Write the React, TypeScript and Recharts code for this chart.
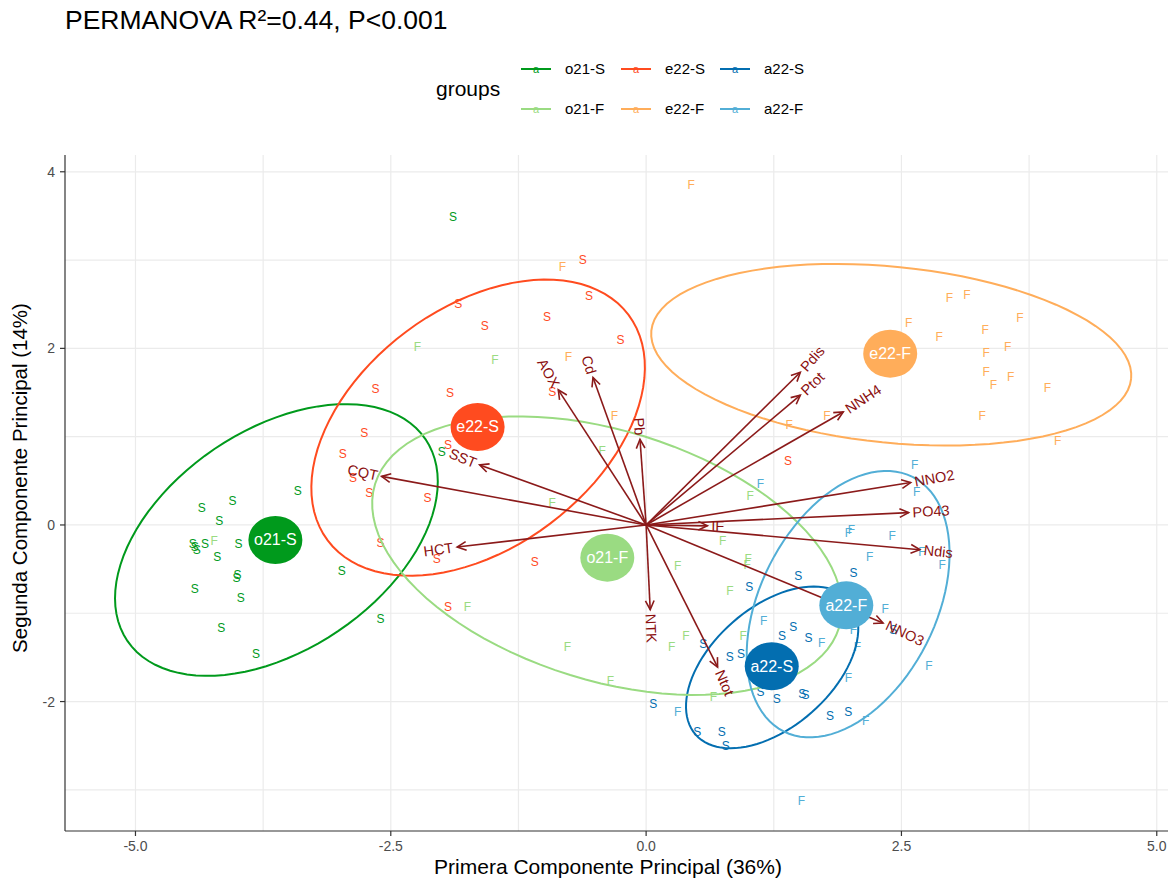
import React from 'react';
import { ScatterChart, Scatter, XAxis, YAxis, CartesianGrid } from 'recharts';

const W = 1168;
const H = 878;

// groups, in legend order (row 1 then row 2)
const groups = ['o21-S', 'e22-S', 'a22-S', 'o21-F', 'e22-F', 'a22-F'];
const groupColors: Record<string, string> = {
  'o21-S': '#009A1C',
  'e22-S': '#FF4B1F',
  'a22-S': '#036EB0',
  'o21-F': '#9ADB82',
  'e22-F': '#FFAD5A',
  'a22-F': '#52AED6',
};

// sample scores [PC1, PC2]
const o21S = [
  [-1.89, 3.49], [-3.41, 0.39], [-4.05, 0.27], [-4.35, 0.19], [-4.18, 0.05],
  [-4.44, -0.21], [-4.42, -0.25], [-4.40, -0.28], [-4.32, -0.21], [-3.99, -0.21],
  [-4.2, -0.36], [-4.01, -0.6], [-4.0, -0.57], [-4.42, -0.72], [-3.97, -0.83],
  [-2.98, -0.52], [-2.6, -1.06], [-4.16, -1.17], [-3.82, -1.46], [-2.0, 0.83],
];
const e22S = [
  [-0.62, 3.0], [-0.56, 2.59], [-1.84, 2.5], [-0.97, 2.36], [-1.58, 2.25],
  [-0.25, 2.1], [-2.65, 1.54], [-1.92, 1.5], [-0.92, 1.51], [-2.76, 1.04],
  [-2.97, 0.8], [-2.87, 0.53], [-2.71, 0.36], [-2.14, 0.31], [-2.6, -0.2],
  [-2.05, -0.39], [-1.94, 0.91], [-1.09, -0.42], [-1.94, -0.93], [1.39, 0.72],
];
const a22S = [
  [1.01, -0.7], [1.49, -0.58], [2.03, -0.54], [1.44, -1.16], [1.33, -1.26],
  [1.59, -1.28], [0.82, -1.49], [0.93, -1.46], [0.56, -1.35], [1.12, -1.89],
  [1.28, -1.97], [1.53, -1.92], [1.56, -1.93], [1.8, -2.16], [1.98, -2.12],
  [0.5, -2.35], [0.74, -2.35], [0.78, -2.5], [0.07, -2.03], [2.42, -1.19],
];
const o21F = [
  [-2.24, 2.01], [-1.48, 1.87], [-0.43, 0.84], [-4.23, -0.18], [-0.92, 0.25],
  [1.02, 0.33], [0.75, -0.18], [1.0, -0.39], [0.99, -0.45], [0.31, -0.47],
  [0.82, -0.75], [-1.75, -0.93], [-0.77, -1.38], [0.39, -1.26], [0.25, -1.38],
  [0.95, -1.26], [-0.35, -1.77], [0.66, -1.95],
];
const e22F = [
  [0.44, 3.85], [2.97, 2.57], [3.14, 2.6], [2.57, 2.29], [2.87, 2.13],
  [3.32, 2.21], [3.66, 2.34], [3.33, 1.95], [3.54, 2.01], [3.33, 1.73],
  [3.4, 1.58], [3.57, 1.68], [3.93, 1.55], [3.29, 1.23], [4.03, 0.95],
  [1.4, 1.13], [1.77, 1.23], [-0.82, 2.92], [-0.76, 1.9], [-0.31, 1.23],
];
const a22F = [
  [2.63, 0.68], [1.12, 0.46], [2.65, 0.37], [1.98, -0.09], [2.01, -0.06],
  [2.41, -0.13], [2.19, -0.36], [2.7, -0.31], [2.9, -0.45], [2.34, -0.95],
  [1.15, -1.09], [2.03, -1.19], [1.72, -1.34], [2.07, -1.38], [2.77, -1.6],
  [1.98, -1.73], [2.15, -2.22], [0.31, -2.12], [1.52, -3.13],
];
const samples: Record<string, number[][]> = {
  'o21-S': o21S, 'e22-S': e22S, 'a22-S': a22S,
  'o21-F': o21F, 'e22-F': e22F, 'a22-F': a22F,
};

// group centroids
const centroidX = [-3.63, -1.65, 1.23, -0.38, 2.39, 1.96];
const centroidY = [-0.17, 1.11, -1.6, -0.37, 1.94, -0.91];

// 95% ellipses: centre and two conjugate semi-axes
const ellipseCentre = [[-3.62, -0.17], [-1.645, 1.102], [1.234, -1.613], [-0.382, -0.348], [2.4, 1.928], [1.978, -0.897]];
const ellipseAxisA = [[1.459, 1.143], [1.473, 1.277], [0.749, 0.762], [2.272, -0.812], [2.349, -0.272], [0.631, 1.441]];
const ellipseAxisB = [[0.607, -1.03], [0.705, -1.087], [0.388, -0.509], [-0.361, -1.352], [0.086, 0.992], [0.767, -0.448]];

// variable loadings
const loadingNames = ['CQT', 'SST', 'HCT', 'AOX', 'Cd', 'Pb', 'Pdis', 'Ptot', 'NNH4', 'NNO2', 'PO43', 'IF', 'Ndis', 'NNO3', 'NTK', 'Ntot'];
const loadingX = [-2.59, -1.63, -1.85, -0.86, -0.52, -0.06, 1.51, 1.51, 1.93, 2.59, 2.57, 0.6, 2.68, 2.32, 0.04, 0.7];
const loadingY = [0.55, 0.68, -0.25, 1.53, 1.67, 0.97, 1.73, 1.47, 1.28, 0.48, 0.14, -0.01, -0.28, -1.11, -0.96, -1.61];

const xTicks = [-5, -2.5, 0, 2.5, 5];
const yTicks = [-2, 0, 2, 4];
const gridX = [-5, -3.75, -2.5, -1.25, 0, 1.25, 2.5, 3.75, 5];
const gridY = [-3, -2, -1, 0, 1, 2, 3, 4];

const ARROW = '#8B1A1A';
const FONT = '"Liberation Sans", Arial, Helvetica, sans-serif';

const ellipsePoints = (i: number) =>
  Array.from({ length: 97 }, (_, k) => {
    const t = (k / 96) * 2 * Math.PI;
    const c = ellipseCentre[i], a = ellipseAxisA[i], b = ellipseAxisB[i];
    return { x: c[0] + a[0] * Math.cos(t) + b[0] * Math.sin(t), y: c[1] + a[1] * Math.cos(t) + b[1] * Math.sin(t) };
  });

const Nothing = () => <g />;

function ArrowWithLabel({ points, name, lx, ly }: any) {
  if (!points || points.length < 2) return null;
  const p0 = points[0], p1 = points[1];
  const ang = Math.atan2(p1.y - p0.y, p1.x - p0.x);
  const head = 10, spread = Math.PI / 7;
  const h1x = p1.x - head * Math.cos(ang - spread), h1y = p1.y - head * Math.sin(ang - spread);
  const h2x = p1.x - head * Math.cos(ang + spread), h2y = p1.y - head * Math.sin(ang + spread);
  const tx = p1.x + 4 * Math.cos(ang), ty = p1.y + 4 * Math.sin(ang);
  const rot = -(Math.atan(ly / lx) * 180) / Math.PI;
  return (
    <g>
      <line x1={p0.x} y1={p0.y} x2={p1.x} y2={p1.y} stroke={ARROW} strokeWidth={1.6} />
      <polyline points={`${h1x},${h1y} ${p1.x},${p1.y} ${h2x},${h2y}`} fill="none" stroke={ARROW} strokeWidth={1.6} />
      <text
        x={tx}
        y={ty}
        transform={`rotate(${rot} ${tx} ${ty})`}
        textAnchor={lx >= 0 ? 'start' : 'end'}
        dominantBaseline="central"
        fill="#8B0F0F"
        fontSize={14.5}
        fontFamily={FONT}
      >
        {name}
      </text>
    </g>
  );
}

export default function App() {
  return (
    <div style={{ position: 'absolute', left: 0, top: 0, width: W, height: H, overflow: 'hidden', background: '#fff', fontFamily: FONT }}>
      <ScatterChart width={W} height={H} margin={{ top: 155, right: 0, bottom: 0, left: 0 }}>
        <CartesianGrid stroke="#EBEBEB" strokeWidth={1.2} verticalValues={gridX} horizontalValues={gridY} />
        <XAxis
          type="number"
          dataKey="x"
          domain={[-5.69, 5.11]}
          allowDataOverflow
          ticks={xTicks}
          tickFormatter={(v: number) => v.toFixed(1)}
          height={47}
          tick={{ fill: '#4D4D4D', fontSize: 14, fontFamily: FONT }}
          tickSize={5}
          tickMargin={5}
          axisLine={{ stroke: '#333', strokeWidth: 1.2 }}
          tickLine={{ stroke: '#333', strokeWidth: 1.2 }}
        />
        <YAxis
          type="number"
          dataKey="y"
          domain={[-3.466, 4.19]}
          allowDataOverflow
          ticks={yTicks}
          width={65}
          tick={{ fill: '#4D4D4D', fontSize: 14, fontFamily: FONT }}
          tickSize={5}
          tickMargin={5}
          axisLine={{ stroke: '#333', strokeWidth: 1.2 }}
          tickLine={{ stroke: '#333', strokeWidth: 1.2 }}
        />

        {/* sample letters */}
        {groups.map((g) => (
          <Scatter
            key={'pts-' + g}
            data={samples[g].map(([x, y]) => ({ x, y }))}
            isAnimationActive={false}
            shape={(p: any) => (
              <text x={p.cx} y={p.cy} textAnchor="middle" dominantBaseline="central" fill={groupColors[g]} fontSize={12} fontFamily={FONT}>
                {g.slice(-1)}
              </text>
            )}
          />
        ))}

        {/* ellipses */}
        {groups.map((g, i) => (
          <Scatter
            key={'ell-' + g}
            data={ellipsePoints(i)}
            isAnimationActive={false}
            fill="none"
            line={{ stroke: groupColors[g], strokeWidth: 2 }}
            shape={Nothing}
          />
        ))}

        {/* loading arrows */}
        {loadingNames.map((n, i) => (
          <Scatter
            key={'arr-' + n}
            data={[{ x: 0, y: 0 }, { x: loadingX[i], y: loadingY[i] }]}
            isAnimationActive={false}
            line={(props: any) => <ArrowWithLabel points={props.points} name={n} lx={loadingX[i]} ly={loadingY[i]} />}
            shape={Nothing}
          />
        ))}

        {/* centroids */}
        <Scatter
          data={groups.map((g, i) => ({ x: centroidX[i], y: centroidY[i], name: g }))}
          isAnimationActive={false}
          shape={(p: any) => (
            <g>
              <ellipse cx={p.cx} cy={p.cy} rx={27} ry={24} fill={groupColors[p.payload.name]} />
              <text x={p.cx} y={p.cy} textAnchor="middle" dominantBaseline="central" fill="#fff" fontSize={16} fontFamily={FONT}>
                {p.payload.name}
              </text>
            </g>
          )}
        />
      </ScatterChart>

      <svg width={W} height={H} style={{ position: 'absolute', left: 0, top: 0, pointerEvents: 'none' }} fontFamily={FONT}>
        <text x={65} y={29} fontSize={26.5} fill="#000">{'PERMANOVA R²=0.44, P<0.001'}</text>
        <text x={436} y={96} fontSize={21} fill="#000">groups</text>
        {groups.map((g, i) => {
          const col = i % 3;
          const row = Math.floor(i / 3);
          const kx = [521, 621, 720][col];
          const cy = row === 0 ? 69 : 109;
          return (
            <g key={'leg-' + g}>
              <line x1={kx} y1={cy} x2={kx + 30} y2={cy} stroke={groupColors[g]} strokeWidth={2} />
              <text x={kx + 15} y={cy + 4} textAnchor="middle" fontSize={11} fill={groupColors[g]}>a</text>
              <text x={kx + 44} y={cy + 5} fontSize={15} fill="#000">{g}</text>
            </g>
          );
        })}
        <text x={608} y={874} textAnchor="middle" fontSize={21} fill="#000">Primera Componente Principal (36%)</text>
        <text x={27} y={478} textAnchor="middle" fontSize={20.5} fill="#000" transform="rotate(-90 27 478)">
          Segunda Componente Principal (14%)
        </text>
      </svg>
    </div>
  );
}
